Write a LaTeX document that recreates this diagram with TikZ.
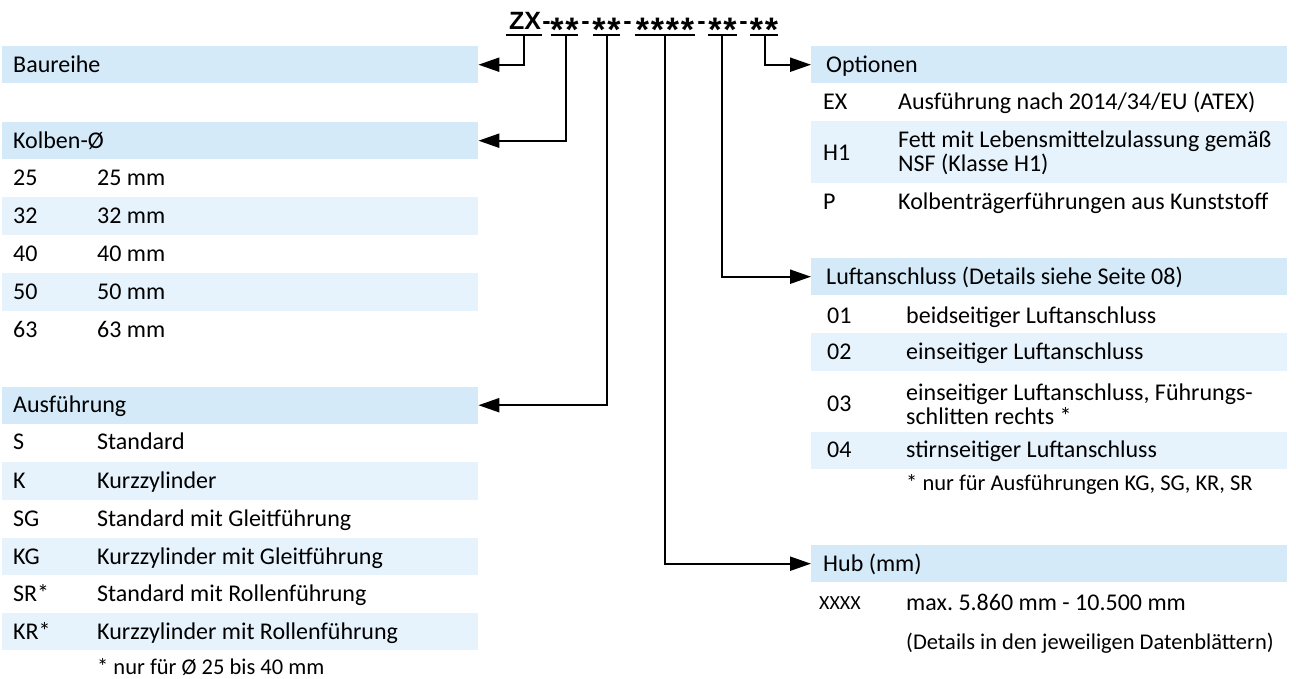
\documentclass[tikz,border=0pt]{standalone}
\usepackage{fontspec}
\setmainfont{Carlito}
\newfontfamily\titlefont{Liberation Sans}
\usetikzlibrary{arrows.meta}
\definecolor{hdrblue}{RGB}{212,234,249}
\definecolor{rowblue}{RGB}{231,243,252}
\newcommand\onestar{\makebox[15pt]{*}}
\newcommand\hdrtext[2]{\makebox[#1][l]{#2}}
\begin{document}
\frenchspacing
\begin{tikzpicture}[x=1pt,y=-1pt,
  bodyfont/.style={font=\fontsize{24}{24}\selectfont\frenchspacing},
  smallfont/.style={font=\fontsize{22.5}{24}\selectfont\frenchspacing},
  txt/.style={bodyfont, inner sep=0pt, anchor=base west},
  txts/.style={smallfont, inner sep=0pt, anchor=base west},
  txtm/.style={bodyfont, inner sep=0pt, anchor=west, align=left},
  hdrL/.style={bodyfont, fill=hdrblue, minimum width=476, minimum height=37, inner xsep=11, inner ysep=0, anchor=north west, text height=17, text depth=2},
  hdrR/.style={hdrL, inner xsep=15},
  shade/.style={fill=rowblue},
  ttl/.style={font=\titlefont\bfseries\fontsize{25}{30}\selectfont, inner sep=0pt, anchor=base},
  stars/.style={font=\titlefont\bfseries\fontsize{34}{34}\selectfont, inner sep=0pt, anchor=base},
  uline/.style={line width=2.2},
  conn/.style={line width=2.2, -{Triangle[length=21,width=14]}}
]
\useasboundingbox (0,0) rectangle (1296,679);

% ---------- title ----------
\node[ttl] (zx) at (525,30) {ZX};
\node[ttl] (d1) at (546.5,30) {-};
\node[stars] (g1) at (564.5,42) {\onestar\onestar};
\node[ttl] (d2) at (585.5,30) {-};
\node[stars] (g2) at (606.5,42) {\onestar\onestar};
\node[ttl] (d3) at (627.5,30) {-};
\node[stars] (g3) at (665,42) {\onestar\onestar\onestar\onestar};
\node[ttl] (d4) at (701.5,30) {-};
\node[stars] (g4) at (722.5,42) {\onestar\onestar};
\node[ttl] (d5) at (743.5,30) {-};
\node[stars] (g5) at (764,42) {\onestar\onestar};
\draw[uline] (506,35) -- (542,35);
\draw[uline] (551,35) -- (578,35);
\draw[uline] (593,35) -- (620,35);
\draw[uline] (635,35) -- (695,35);
\draw[uline] (708,35) -- (737,35);
\draw[uline] (750,35) -- (778,35);
\coordinate (t1) at (524,35);
\coordinate (t2) at (566,35);
\coordinate (t3) at (607,35);
\coordinate (t4) at (665,35);
\coordinate (t5) at (722,35);
\coordinate (t6) at (765,35);

% ---------- left column ----------
\node[hdrL] (baureihe) at (2,46) {\hdrtext{454pt}{Baureihe}};
\node[hdrL] (kolben) at (2,122) {\hdrtext{454pt}{Kolben-Ø}};
\fill[shade] (2,197) rectangle (478,235);
\fill[shade] (2,273) rectangle (478,311);
\node[txt] (k1a) at (13,185.7) {25}; \node[txt] (k1b) at (97,185.7) {25 mm};
\node[txt] (k2a) at (13,223.7) {32}; \node[txt] (k2b) at (97,223.7) {32 mm};
\node[txt] (k3a) at (13,261.7) {40}; \node[txt] (k3b) at (97,261.7) {40 mm};
\node[txt] (k4a) at (13,299.7) {50}; \node[txt] (k4b) at (97,299.7) {50 mm};
\node[txt] (k5a) at (13,337.7) {63}; \node[txt] (k5b) at (97,337.7) {63 mm};

\node[hdrL] (ausf) at (2,386.5) {\hdrtext{454pt}{Ausführung}};
\fill[shade] (2,462) rectangle (478,500);
\fill[shade] (2,538) rectangle (478,575);
\fill[shade] (2,613) rectangle (478,650);
\node[txt] (a1a) at (13,449.7) {S};   \node[txt] (a1b) at (97,449.7) {Standard};
\node[txt] (a2a) at (13,488.7) {K};   \node[txt] (a2b) at (97,488.7) {Kurzzylinder};
\node[txt] (a3a) at (13,526.7) {SG};  \node[txt] (a3b) at (97,526.7) {Standard mit Gleitführung};
\node[txt] (a4a) at (13,564.2) {KG};  \node[txt] (a4b) at (97,564.2) {Kurzzylinder mit Gleitführung};
\node[txt] (a5a) at (13,601.7) {SR*}; \node[txt] (a5b) at (97,601.7) {Standard mit Rollenführung};
\node[txt] (a6a) at (13,639.2) {KR*}; \node[txt] (a6b) at (97,639.2) {Kurzzylinder mit Rollenführung};
\node[txts] (afn) at (97,674.5) {* nur für Ø 25 bis 40 mm};

% ---------- right column ----------
\node[hdrR] (optionen) at (811,46) {\hdrtext{446pt}{Optionen}};
\fill[shade] (811,121) rectangle (1287,183);
\node[txt] (o1a) at (823,109.7) {EX}; \node[txt] (o1b) at (898,109.7) {Ausführung nach 2014/34/EU (ATEX)};
\node[txt] (o2a) at (823,160.7) {H1}; \node[txtm] (o2b) at (898,153) {Fett mit Lebensmittelzulassung gemäß\\NSF (Klasse H1)};
\node[txt] (o3a) at (823,209.7) {P};  \node[txt] (o3b) at (898,209.7) {Kolbenträgerführungen aus Kunststoff};

\node[hdrR] (luft) at (811,258) {\hdrtext{446pt}{Luftanschluss (Details siehe Seite 08)}};
\fill[shade] (811,333) rectangle (1287,371);
\fill[shade] (811,432) rectangle (1287,469);
\node[txt] (l1a) at (827,323.7) {01}; \node[txt] (l1b) at (906,323.7) {beidseitiger Luftanschluss};
\node[txt] (l2a) at (827,359.7) {02}; \node[txt] (l2b) at (906,359.7) {einseitiger Luftanschluss};
\node[txt] (l3a) at (827,411.7) {03}; \node[txtm] (l3b) at (906,404) {einseitiger Luftanschluss, Führungs-\\schlitten rechts *};
\node[txt] (l4a) at (827,457.7) {04}; \node[txt] (l4b) at (906,457.7) {stirnseitiger Luftanschluss};
\node[txts] (lfn) at (906,490.5) {* nur für Ausführungen KG, SG, KR, SR};

\node[hdrR, inner xsep=12] (hub) at (811,545) {\hdrtext{452pt}{Hub (mm)}};
\node[txt, font=\fontsize{20}{24}\selectfont] (h1a) at (819,609.5) {XXXX};
\node[txt] (h1b) at (906,610.7) {max. 5.860 mm - 10.500 mm};
\node[txts] (h2b) at (906,649.5) {(Details in den jeweiligen Datenblättern)};

% ---------- connectors ----------
\draw[conn] (t1) |- (baureihe.east);
\draw[conn] (t2) |- (kolben.east);
\draw[conn] (t3) |- (ausf.east);
\draw[conn] (t4) |- (hub.west);
\draw[conn] (t5) |- (luft.west);
\draw[conn] (t6) |- (optionen.west);
\end{tikzpicture}
\end{document}
